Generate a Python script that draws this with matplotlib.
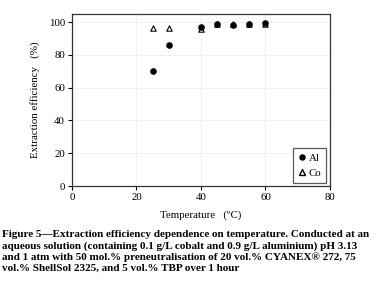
import matplotlib
matplotlib.use("Agg")
import matplotlib.pyplot as plt
from matplotlib.lines import Line2D

temps = [25, 30, 40, 45, 50, 55, 60]
al = [70, 86, 97, 99, 98, 99, 99.5]
co = [96.5, 96.5, 96, 99, 99, 99, 99]

x_ticks = [0, 20, 40, 60, 80]
y_ticks = [0, 20, 40, 60, 80, 100]

fig = plt.figure(figsize=(3.76, 2.92), dpi=100)
ax = fig.add_axes([0.1915, 0.363, 0.686, 0.589])
serif = "Liberation Serif"

ax.scatter(temps, co, marker="^", facecolors="white", edgecolors="black", s=15, linewidths=0.8, zorder=3, label="Co")
ax.scatter(temps, al, marker="o", color="black", s=14, zorder=4, label="Al")

ax.set_xlim(0, 80)
ax.set_ylim(0, 105)
ax.set_xticks(x_ticks)
ax.set_yticks(y_ticks)
ax.grid(True, color="#eeeeee", linewidth=0.6)
ax.set_axisbelow(True)
for s in ax.spines.values():
    s.set_color("#333333")
    s.set_linewidth(0.9)
ax.tick_params(direction="out", length=3, width=0.8, labelsize=7.8, pad=2)
for lab in ax.get_xticklabels() + ax.get_yticklabels():
    lab.set_family(serif)

ax.set_xlabel("Temperature   (ºC)", fontsize=7.8, family=serif, labelpad=6)
ax.set_ylabel("Extraction efficiency   (%)", fontsize=7.8, family=serif, labelpad=6)

handles = [Line2D([], [], marker="o", color="black", linestyle="none", markersize=3.6),
           Line2D([], [], marker="^", markerfacecolor="white", markeredgecolor="black", linestyle="none", markersize=4.2)]
leg = ax.legend(handles, ["Al", "Co"], loc="lower right", prop={"family": serif, "size": 7.8},
                frameon=True, fancybox=False, edgecolor="#333333", handlelength=0.8, handletextpad=0.2,
                borderpad=0.45, labelspacing=0.5, borderaxespad=0, bbox_to_anchor=(0.985, 0.02))
leg.get_frame().set_linewidth(0.9)

caption = ("Figure 5\u2014Extraction efficiency dependence on temperature. Conducted at an\n"
           "aqueous solution (containing 0.1 g/L cobalt and 0.9 g/L aluminium) pH 3.13\n"
           "and 1 atm with 50 mol.% preneutralisation of 20 vol.% CYANEX\u00ae 272, 75\n"
           "vol.% ShellSol 2325, and 5 vol.% TBP over 1 hour")
fig.text(0.006, 0.212, caption, fontsize=8.0, family=serif, fontweight="bold", va="top", ha="left",
         linespacing=1.25)

fig.savefig("out.png", dpi=100)
